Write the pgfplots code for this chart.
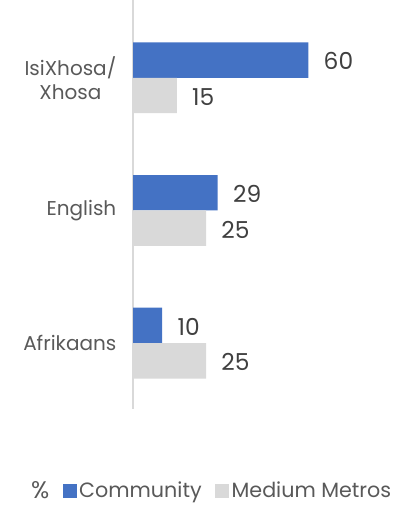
\documentclass[border=0pt]{standalone}
\usepackage{fontspec}
\setmainfont{Poppins}
\usepackage{pgfplots}
\pgfplotsset{compat=1.18}
\definecolor{cblue}{HTML}{4472C4}
\definecolor{cgray}{HTML}{D9D9D9}
\definecolor{tgray}{HTML}{595959}
\definecolor{dgray}{HTML}{404040}
\begin{document}
\begin{tikzpicture}[x=1pt,y=1pt]
\useasboundingbox (0,0) rectangle (297,384.75);
\begin{axis}[
  at={(99.75pt,78pt)}, anchor=south west,
  scale only axis, width=197.25pt, height=306.75pt,
  xbar, xmin=0, xmax=90,
  ymin=-0.586, ymax=2.496, y dir=reverse,
  axis x line=none, axis y line*=left,
  y axis line style={draw=cgray, line width=1pt},
  ytick={0,1,2}, yticklabels={{IsiXhosa/\\Xhosa},English,Afrikaans},
  major tick length=0pt,
  yticklabel style={align=center, font=\fontsize{15}{18}\selectfont, text=tgray, xshift=-9pt},
  bar width=0.267,
  nodes near coords,
  /pgf/number format/assume math mode=true,
  every node near coord/.append style={anchor=west, xshift=8pt, yshift=-1pt, font=\fontsize{17.5}{21}\selectfont, text=dgray},
  legend columns=3,
  legend style={draw=none, at={(0.297,-0.2)}, anchor=center, font=\fontsize{15.5}{18}\selectfont, text=tgray,
    /tikz/every even column/.append style={column sep=8pt}},
  legend image code/.code={\fill[#1] (0pt,-5.25pt) rectangle (10.5pt,5.25pt);},
  clip=false,
]
\addlegendimage{empty legend}
\addlegendentry{\fontsize{18}{18}\selectfont\%}
\addplot[fill=cblue, draw=none, bar shift=-0.1335] coordinates {(60,0) (29,1) (10,2)};
\addlegendentry{Community}
\addplot[fill=cgray, draw=none, bar shift=0.1335] coordinates {(15,0) (25,1) (25,2)};
\addlegendentry{Medium Metros}
\end{axis}
\end{tikzpicture}
\end{document}
